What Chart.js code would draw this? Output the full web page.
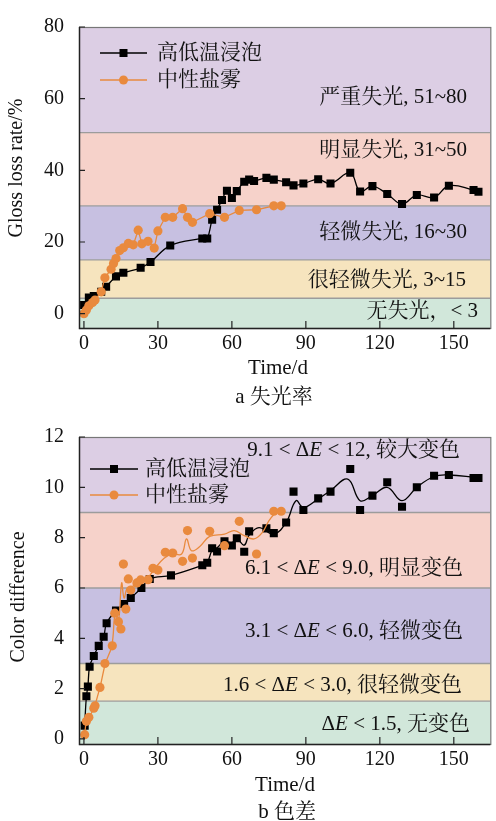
<!DOCTYPE html>
<html>
<head>
<meta charset="utf-8">
<script src="https://cdn.jsdelivr.net/npm/chart.js@4/dist/chart.umd.min.js"></script>
<style>
  html, body { margin: 0; padding: 0; background: #fff; }
  #wrap { position: relative; width: 496px; height: 821px; overflow: hidden; }
  canvas { position: absolute; left: 0; }
  #chartA { top: 0; }
  #chartB { top: 410px; }
</style>
</head>
<body>
<div id="wrap">
  <canvas id="chartA" width="496" height="410"></canvas>
  <canvas id="chartB" width="496" height="411"></canvas>
</div>
<script>
// ---------- shared ----------
const seriesNames = ['高低温浸泡', '中性盐雾'];
const timeTicks = [0, 30, 60, 90, 120, 150];

// ---------- (a) gloss loss rate, % ----------
const immersionDaysA = [0, 2, 4, 7, 9, 13, 16, 23, 27, 35, 48, 50, 52, 54, 56, 58, 60, 62, 65, 67, 69, 74, 77, 82, 85, 89, 95, 100, 108, 112, 117, 123, 129, 135, 142, 148, 158, 160];
const immersionGloss = [2.4, 4.5, 4.9, 6.1, 7.5, 10.4, 11.4, 12.8, 14.4, 19.0, 21.0, 21.0, 26.2, 29.0, 31.7, 34.3, 32.3, 34.2, 36.8, 37.4, 37.0, 37.9, 37.4, 36.7, 35.8, 36.3, 37.5, 36.3, 39.3, 34.1, 35.6, 33.4, 30.6, 33.1, 32.4, 35.7, 34.5, 34.0];
const saltDaysA = [0, 1, 2, 3.5, 4.5, 7, 8.5, 11, 12, 13, 14.5, 16, 18, 20, 22, 23.5, 26, 28.5, 30, 33, 36, 40, 42, 44, 51, 57, 63, 70, 77, 80];
const saltGloss = [0, 1, 2.2, 3.1, 3.8, 6.1, 10.0, 12.4, 14.0, 15.4, 17.6, 18.4, 19.6, 19.2, 23.3, 19.5, 20.2, 18.3, 23.1, 26.9, 26.9, 29.3, 26.9, 25.5, 27.9, 26.9, 28.8, 29.0, 30.1, 30.1];
const glossTicks = [0, 20, 40, 60, 80];
const glossBandEdges = [-4, 4.3, 15, 30.1, 50.5, 80];
const glossBandNames = [
  [{ t: '无失光，< 3' }],
  [{ t: '很轻微失光, 3~15' }],
  [{ t: '轻微失光, 16~30' }],
  [{ t: '明显失光, 31~50' }],
  [{ t: '严重失光, 51~80' }]
];

// ---------- (b) color difference ----------
const immersionDaysB = [0.3, 1, 1.6, 2.3, 4, 6, 8, 9.2, 13, 16.3, 19, 23.3, 26.7, 35.3, 48, 50, 52, 54, 57, 60, 62, 65, 67, 74, 77, 82, 85, 89, 95, 100, 108, 112, 117, 123, 129, 135, 142, 148, 158, 160];
const immersionDE = [0.53, 1.7, 2.08, 2.87, 3.3, 3.7, 4.06, 4.6, 5.1, 5.36, 5.6, 6.0, 6.36, 6.5, 6.9, 7.0, 7.58, 7.45, 7.86, 7.69, 7.98, 7.44, 8.25, 8.37, 8.18, 8.6, 9.83, 9.1, 9.56, 9.83, 10.73, 9.1, 9.67, 10.2, 9.23, 10.0, 10.46, 10.49, 10.37, 10.37];
const immersionCurveDays = [0.3, 1, 1.6, 2.3, 4, 6, 8, 9.2, 13, 16.3, 19, 23.3, 26.7, 35.3, 48, 50, 52, 54, 57, 60, 62, 65, 67, 71, 77, 82, 86, 89, 95, 100, 107, 112, 117, 123, 129, 135, 142, 148, 158, 160.4];
const immersionCurveDE = [0.53, 1.7, 2.08, 2.87, 3.3, 3.7, 4.06, 4.6, 5.1, 5.36, 5.6, 6.0, 6.36, 6.5, 6.9, 7.0, 7.5, 7.6, 7.85, 7.8, 7.95, 7.7, 8.1, 8.4, 8.14, 8.6, 9.47, 9.2, 9.54, 9.87, 10.33, 9.47, 9.67, 10.0, 9.47, 10.0, 10.43, 10.49, 10.4, 10.36];
const saltDaysB = [0.3, 1, 2, 4, 4.5, 6.5, 8.5, 11.5, 12.5, 14, 15, 16, 17, 18, 19, 21.5, 23, 26, 28, 30, 33, 36, 40, 42, 44, 51, 57, 63, 70, 77, 80];
const saltDE = [0.17, 0.7, 0.86, 1.22, 1.32, 2.05, 3.0, 3.7, 5.0, 4.66, 4.37, 6.95, 5.16, 6.36, 5.92, 6.2, 6.32, 6.33, 6.78, 6.71, 7.42, 7.39, 7.06, 8.28, 7.19, 8.25, 7.68, 8.65, 7.35, 9.05, 9.05];
const saltCurveDays = [0.3, 1, 2, 4, 6.5, 8.7, 11.3, 12.7, 14, 15.3, 16.3, 17.6, 19.6, 21.6, 25.6, 28.5, 32.5, 35.6, 39.6, 41.6, 43.6, 47, 51, 57, 61, 65, 69, 72.4, 75, 78.4, 80];
const saltCurveDE = [0.17, 0.7, 0.86, 1.22, 2.05, 3.0, 3.7, 5.0, 4.7, 6.2, 5.6, 6.0, 6.04, 6.29, 6.38, 6.75, 7.18, 7.35, 7.35, 7.95, 7.48, 7.65, 8.05, 8.14, 8.28, 8.08, 7.95, 8.21, 8.67, 9.05, 9.05];
const deTicks = [0, 2, 4, 6, 8, 10, 12];
const deBandEdges = [-0.2, 1.5, 3, 6, 9, 12];
const deBandNames = [
  [{ t: 'Δ' }, { t: 'E', i: true }, { t: ' < 1.5, 无变色' }],
  [{ t: '1.6 < Δ' }, { t: 'E', i: true }, { t: ' < 3.0, 很轻微变色' }],
  [{ t: '3.1 < Δ' }, { t: 'E', i: true }, { t: ' < 6.0, 轻微变色' }],
  [{ t: '6.1 < Δ' }, { t: 'E', i: true }, { t: ' < 9.0, 明显变色' }],
  [{ t: '9.1 < Δ' }, { t: 'E', i: true }, { t: ' < 12, 较大变色' }]
];

// ---------- styling ----------
const FAM = '"Liberation Serif", "Noto Serif CJK SC", "Noto Sans CJK SC", serif';
const LABEL_SIZE = 21;
const ORANGE = '#E98A3E';
const BAND_COLORS = ['#D1E7DA', '#F6E4BE', '#C7C0E1', '#F6D2CA', '#DCCEE4'];
Chart.defaults.font.family = FAM;
Chart.defaults.font.size = 20;
Chart.defaults.color = '#111';

const zip = (xs, ys) => xs.map((x, i) => ({ x, y: ys[i] }));
const fontOf = s => (s.i ? 'italic ' : '') + LABEL_SIZE + 'px ' + FAM;

function drawRich(ctx, segs, right, yMid) {
  let w = 0;
  segs.forEach(s => { ctx.font = fontOf(s); w += ctx.measureText(s.t).width; });
  let x = right - w;
  ctx.textAlign = 'left';
  ctx.textBaseline = 'middle';
  segs.forEach(s => { ctx.font = fontOf(s); ctx.fillText(s.t, x, yMid); x += ctx.measureText(s.t).width; });
}

// bands, band labels, frame, inward ticks, legend and captions
function decor(cfg) {
  return {
    id: 'decor',
    beforeDatasetsDraw(chart) {
      const { ctx, chartArea: a } = chart;
      const y = chart.scales.y;
      ctx.save();
      ctx.beginPath();
      ctx.rect(a.left, a.top, a.right - a.left, a.bottom - a.top);
      ctx.clip();
      for (let i = 0; i < BAND_COLORS.length; i++) {
        const y0 = y.getPixelForValue(cfg.edges[i]);
        const y1 = y.getPixelForValue(cfg.edges[i + 1]);
        ctx.fillStyle = BAND_COLORS[i];
        ctx.fillRect(a.left, y1, a.right - a.left, y0 - y1);
      }
      ctx.strokeStyle = '#9c9c9c';
      ctx.lineWidth = 1.3;
      for (let i = 1; i < cfg.edges.length - 1; i++) {
        const p = y.getPixelForValue(cfg.edges[i]);
        ctx.beginPath(); ctx.moveTo(a.left, p); ctx.lineTo(a.right, p); ctx.stroke();
      }
      ctx.fillStyle = '#111';
      cfg.names.forEach((segs, i) => drawRich(ctx, segs, cfg.labelRight[i], cfg.labelY[i]));
      ctx.restore();
    },
    afterDatasetsDraw(chart) {
      const { ctx, chartArea: a } = chart;
      const x = chart.scales.x, y = chart.scales.y;
      ctx.save();
      // frame
      ctx.strokeStyle = '#777'; ctx.lineWidth = 1.2;
      ctx.strokeRect(a.left + 0.5, a.top + 0.5, a.right - a.left, a.bottom - a.top);
      ctx.strokeStyle = '#222'; ctx.lineWidth = 1.4;
      ctx.beginPath();
      ctx.moveTo(a.left + 0.5, a.top); ctx.lineTo(a.left + 0.5, a.bottom + 0.5); ctx.lineTo(a.right, a.bottom + 0.5);
      ctx.stroke();
      // inward ticks
      ctx.lineWidth = 1.2;
      ctx.beginPath();
      x.ticks.forEach(t => { const p = x.getPixelForValue(t.value); ctx.moveTo(p, a.bottom); ctx.lineTo(p, a.bottom - 7); });
      y.ticks.forEach(t => { const p = y.getPixelForValue(t.value); ctx.moveTo(a.left, p); ctx.lineTo(a.left + 6, p); });
      ctx.stroke();
      // legend
      const L = cfg.legend;
      chart.data.datasets.filter(d => d.inLegend).forEach(d => {
        const ly = L.rows[d.inLegend - 1];
        ctx.strokeStyle = d.borderColor; ctx.lineWidth = 1.3;
        ctx.beginPath(); ctx.moveTo(L.x0, ly); ctx.lineTo(L.x1, ly); ctx.stroke();
        ctx.fillStyle = d.pointBackgroundColor;
        const mx = (L.x0 + L.x1) / 2;
        if (d.pointStyle === 'rect') {
          ctx.fillRect(mx - 4, ly - 4, 8, 8);
        } else {
          ctx.beginPath(); ctx.arc(mx, ly, 4.5, 0, Math.PI * 2); ctx.fill();
        }
        ctx.fillStyle = '#111'; ctx.font = LABEL_SIZE + 'px ' + FAM;
        ctx.textAlign = 'left'; ctx.textBaseline = 'middle';
        ctx.fillText(d.label, L.tx, ly);
      });
      // captions
      ctx.fillStyle = '#111'; ctx.font = LABEL_SIZE + 'px ' + FAM;
      ctx.textAlign = 'center'; ctx.textBaseline = 'middle';
      ctx.fillText('Time/d', cfg.xTitle[0], cfg.xTitle[1]);
      ctx.fillText(cfg.caption, cfg.capPos[0], cfg.capPos[1]);
      ctx.font = '20px ' + FAM;
      ctx.translate(cfg.yTitle[0], cfg.yTitle[1]);
      ctx.rotate(-Math.PI / 2);
      ctx.fillText(cfg.yTitleText, 0, 0);
      ctx.restore();
    }
  };
}

function scalesFor(yMin, yMax, yTicks, xHeight) {
  return {
    x: {
      type: 'linear', min: -2, max: 164.8,
      grid: { display: false, drawTicks: false }, border: { display: false },
      ticks: { padding: 4, color: '#111', font: { size: 20 } },
      afterBuildTicks: s => { s.ticks = timeTicks.map(v => ({ value: v })); },
      afterFit: s => { s.height = xHeight; }
    },
    y: {
      type: 'linear', min: yMin, max: yMax,
      grid: { display: false, drawTicks: false }, border: { display: false },
      ticks: { padding: 15, color: '#111', font: { size: 20 } },
      afterBuildTicks: s => { s.ticks = yTicks.map(v => ({ value: v })); },
      afterFit: s => { s.width = 79; }
    }
  };
}

const common = {
  responsive: false,
  animation: false,
  events: [],
  plugins: { legend: { display: false }, tooltip: { enabled: false } }
};

// ---------- chart (a) ----------
new Chart(document.getElementById('chartA'), {
  type: 'scatter',
  data: {
    datasets: [
      {
        label: seriesNames[1], inLegend: 2,
        data: zip(saltDaysA, saltGloss),
        showLine: true, tension: 0, borderColor: ORANGE, borderWidth: 1.3,
        pointStyle: 'circle', pointRadius: 4.6, pointBorderWidth: 0, pointBackgroundColor: ORANGE
      },
      {
        label: seriesNames[0], inLegend: 1,
        data: zip(immersionDaysA, immersionGloss),
        showLine: true, tension: 0.4, borderColor: '#000', borderWidth: 1.3,
        pointStyle: 'rect', pointRadius: 5.7, pointBorderWidth: 0, pointBackgroundColor: '#000'
      }
    ]
  },
  options: Object.assign({}, common, {
    layout: { padding: { top: 20, left: 0, right: 0, bottom: 0 } },
    scales: scalesFor(-4, 80, glossTicks, 82)
  }),
  plugins: [decor({
    edges: glossBandEdges, names: glossBandNames,
    labelRight: [478, 466, 467, 467, 467],
    labelY: [311.5, 280, 232, 150, 97],
    legend: { x0: 100, x1: 147, tx: 157, rows: [53, 80] },
    xTitle: [278, 368], caption: 'a 失光率', capPos: [274, 397],
    yTitle: [17, 168], yTitleText: 'Gloss loss rate/%'
  })]
});

// ---------- chart (b) ----------
new Chart(document.getElementById('chartB'), {
  type: 'scatter',
  data: {
    datasets: [
      {
        label: seriesNames[1], inLegend: 2,
        data: zip(saltDaysB, saltDE), showLine: false,
        borderColor: ORANGE, pointStyle: 'circle', pointRadius: 4.6, pointBorderWidth: 0, pointBackgroundColor: ORANGE
      },
      {
        label: seriesNames[1] + ' trend',
        data: zip(saltCurveDays, saltCurveDE), showLine: true, tension: 0.4,
        borderColor: ORANGE, borderWidth: 1.3, pointRadius: 0
      },
      {
        label: seriesNames[0], inLegend: 1,
        data: zip(immersionDaysB, immersionDE), showLine: false,
        borderColor: '#000', pointStyle: 'rect', pointRadius: 5.7, pointBorderWidth: 0, pointBackgroundColor: '#000'
      },
      {
        label: seriesNames[0] + ' trend',
        data: zip(immersionCurveDays, immersionCurveDE), showLine: true, tension: 0.4,
        borderColor: '#000', borderWidth: 1.3, pointRadius: 0
      }
    ]
  },
  options: Object.assign({}, common, {
    layout: { padding: { top: 27, left: 0, right: 0, bottom: 0 } },
    scales: scalesFor(-0.2, 12, deTicks, 77)
  }),
  plugins: [decor({
    edges: deBandEdges, names: deBandNames,
    labelRight: [470, 462, 463, 463, 460],
    labelY: [314, 275, 221, 158.5, 40],
    legend: { x0: 90, x1: 138, tx: 145, rows: [59, 85] },
    xTitle: [285, 375], caption: 'b 色差', capPos: [287, 402],
    yTitle: [19, 187], yTitleText: 'Color difference'
  })]
});
</script>
</body>
</html>
